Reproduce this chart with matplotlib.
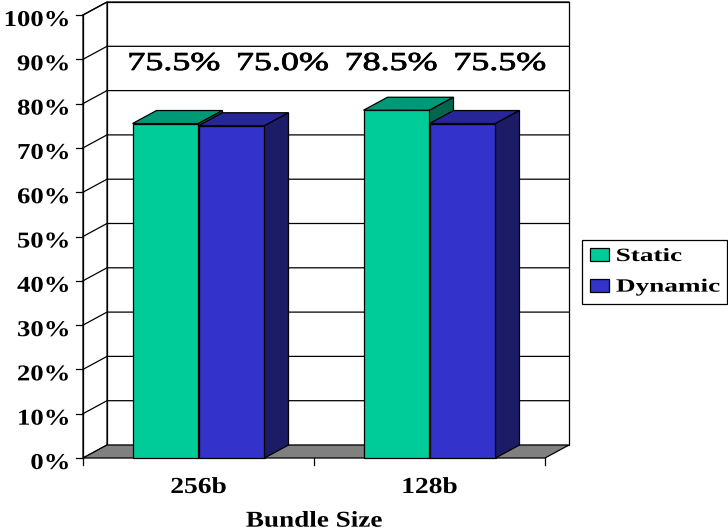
import numpy as np
import matplotlib
matplotlib.use("Agg")
import matplotlib.pyplot as plt
from matplotlib.patches import Polygon, Patch
from matplotlib.transforms import Affine2D
import matplotlib.patheffects as pe

# ---- data ----
categories = ["256b", "128b"]
series_names = ["Static", "Dynamic"]
static_vals = [75.5, 78.5]
dynamic_vals = [75.0, 75.5]
y_ticks = [0, 10, 20, 30, 40, 50, 60, 70, 80, 90, 100]
y_tick_labels = [f"{t}%" for t in y_ticks]
x_title = "Bundle Size"

# ---- styling ----
FRONT = {"Static": "#00CC99", "Dynamic": "#3333CC"}
TOP = {"Static": "#009977", "Dynamic": "#262699"}
SIDE = {"Static": "#00664D", "Dynamic": "#1C1C66"}
FLOOR = "#808080"
SERIF = ["Liberation Serif", "DejaVu Serif"]
LW = 0.9


class StretchX(pe.AbstractPathEffect):
    """Draw text glyphs widened horizontally about an anchor, optionally outlined."""

    def __init__(self, sx, anchor="center", stroke=0.0):
        super().__init__()
        self.sx = sx
        self.anchor = anchor
        self.stroke = stroke

    def draw_path(self, renderer, gc, tpath, affine, rgbFace=None):
        ext = tpath.get_extents()
        if self.anchor == "right":
            cx = ext.x1
        elif self.anchor == "left":
            cx = ext.x0
        else:
            cx = 0.5 * (ext.x0 + ext.x1)
        tr = Affine2D().translate(-cx, 0).scale(self.sx, 1.0).translate(cx, 0) + affine
        if self.stroke:
            gc0 = renderer.new_gc()
            gc0.copy_properties(gc)
            gc0.set_linewidth(self.stroke)
            gc0.set_foreground(rgbFace if rgbFace is not None else "black")
            renderer.draw_path(gc0, tpath, tr, rgbFace)
            gc0.restore()
        renderer.draw_path(gc, tpath, tr, rgbFace)


fig = plt.figure(figsize=(7.28, 5.32), dpi=100)
ax = fig.add_axes([0, 0, 1, 1])
ax.set_axis_off()

# scale: one category = 231 px, 1 % = 4.43 px
ax.set_xlim(-0.5 - 83 / 231, -0.5 + 645 / 231)
ax.set_ylim(-74 / 4.43, 458 / 4.43)

DX, DY = 24 / 231, 13 / 4.43          # depth offset of the 3-D box
x0, x1 = -0.5, len(categories) - 0.5
ytop = y_ticks[-1]

# back wall, side wall and floor
ax.add_patch(Polygon([(x0 + DX, DY), (x1 + DX, DY), (x1 + DX, ytop + DY), (x0 + DX, ytop + DY)],
                     closed=True, fc="white", ec="black", lw=LW, zorder=1))
ax.add_patch(Polygon([(x0, 0), (x0 + DX, DY), (x0 + DX, ytop + DY), (x0, ytop)],
                     closed=True, fc="white", ec="black", lw=LW, zorder=1))
for t in y_ticks[1:]:
    ax.plot([x0, x0 + DX, x1 + DX], [t, t + DY, t + DY], color="black", lw=LW, zorder=2)
ax.add_patch(Polygon([(x0, 0), (x1, 0), (x1 + DX, DY), (x0 + DX, DY)],
                     closed=True, fc=FLOOR, ec="black", lw=LW, zorder=2))

# front value axis with ticks and labels
ax.plot([x0, x0], [0, ytop], color="black", lw=LW, zorder=3)
for t, lab in zip(y_ticks, y_tick_labels):
    ax.plot([x0 - 0.03, x0], [t, t], color="black", lw=LW, zorder=3)
    ax.text(x0 - 0.056, t - 2.48, lab, ha="right", va="baseline", fontsize=16.3,
            fontweight="bold", family=SERIF, path_effects=[StretchX(1.18, "right")])

# category ticks and labels
for b in np.arange(len(categories) + 1) + x0:
    ax.plot([b, b], [0, -1.6], color="black", lw=LW, zorder=3)
for i, cat in enumerate(categories):
    ax.text(i, -7.9, cat, ha="center", va="baseline", fontsize=16.5, fontweight="bold",
            family=SERIF, path_effects=[StretchX(1.2)])
ax.text(x0 + (x1 - x0) / 2, -15.5, x_title, ha="center", va="baseline", fontsize=16.3,
        fontweight="bold", family=SERIF, path_effects=[StretchX(1.2)])

# 3-D columns
w = 1 / 3.5
z = 5
for i in range(len(categories)):
    for j, (name, vals) in enumerate(zip(series_names, [static_vals, dynamic_vals])):
        left = i - w + j * w
        right = left + w
        h = vals[i]
        ax.add_patch(Polygon([(left, 0), (right, 0), (right, h), (left, h)], closed=True,
                             fc=FRONT[name], ec="black", lw=LW, zorder=z))
        ax.add_patch(Polygon([(left, h), (right, h), (right + DX, h + DY), (left + DX, h + DY)],
                             closed=True, fc=TOP[name], ec="black", lw=LW, zorder=z))
        ax.add_patch(Polygon([(right, 0), (right + DX, DY), (right + DX, h + DY), (right, h)],
                             closed=True, fc=SIDE[name], ec="black", lw=LW, zorder=z))
        z += 1

# value labels across the top band
values = [v for pair in zip(static_vals, dynamic_vals) for v in pair]
label_x = np.linspace(-0.106, 1.305, len(values))
for xv, v in zip(label_x, values):
    ax.text(xv, 87.6, f"{v:.1f}%", ha="center", va="baseline", fontsize=18.5,
            family=SERIF, zorder=20, path_effects=[StretchX(1.4, stroke=0.6)])

# legend
handles = [Patch(fc=FRONT[n], ec="black", lw=LW, label=n) for n in series_names]
leg = ax.legend(handles=handles, loc="upper left",
                bbox_to_anchor=(582 / 728, 1 - 240 / 532, 145 / 728, 0),
                bbox_transform=fig.transFigure, mode="expand", borderaxespad=0,
                prop={"family": SERIF, "weight": "bold", "size": 13.5},
                handlelength=1.0, handleheight=0.7, handletextpad=0.4,
                borderpad=0.42, labelspacing=0.72, frameon=True, fancybox=False,
                edgecolor="black", framealpha=1, shadow=False)
leg.get_frame().set_linewidth(LW)
for t in leg.get_texts():
    t.set_path_effects([StretchX(1.45, "left")])

fig.savefig("out.png", dpi=100)
